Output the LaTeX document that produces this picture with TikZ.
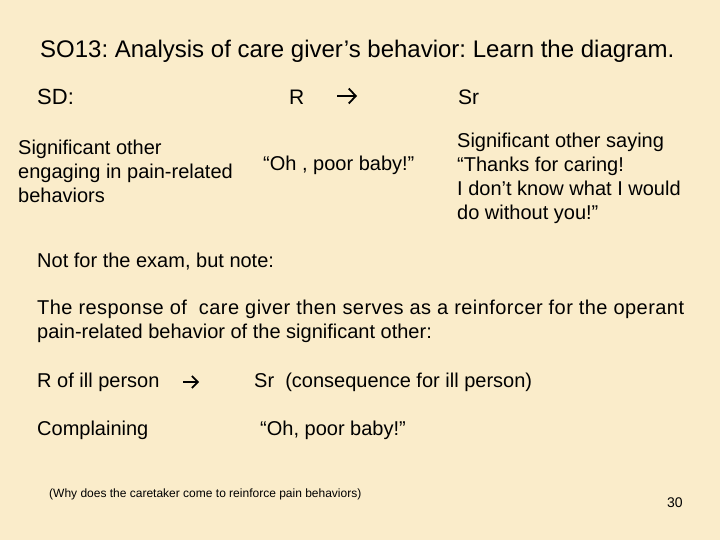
\documentclass[tikz,border=0pt]{standalone}
\usepackage{fontspec}
\setmainfont{Liberation Sans}
\usetikzlibrary{arrows.meta}
\definecolor{slidebg}{RGB}{250,236,202}
\begin{document}
\frenchspacing
\begin{tikzpicture}[x=1pt,y=-1pt,
  txt/.style={anchor=west,inner sep=0pt,font=\fontsize{20}{24}\selectfont,align=left},
  small/.style={anchor=west,inner sep=0pt,font=\fontsize{12}{14}\selectfont},
  arrow/.style={line width=1.8pt,-{Straight Barb[length=7pt,width=15pt,line cap=butt]}}]
\fill[slidebg] (0,0) rectangle (720,540);
\useasboundingbox (0,0) rectangle (720,540);
\node[anchor=west,inner sep=0pt,font=\fontsize{24}{28}\selectfont] (title) at (40,51) {SO13: Analysis of care giver’s behavior: Learn the diagram.};
\node[txt,font=\fontsize{22}{24}\selectfont] (sd) at (37,97) {SD:};
\node[txt,font=\fontsize{21}{24}\selectfont] (r) at (289,97) {R};
\coordinate (a1s) at (337,96);
\coordinate (a1e) at (357,96);
\draw[arrow] (a1s) -- (a1e);
\node[txt,font=\fontsize{21}{24}\selectfont] (sr) at (458,97) {Sr};
\node[txt] (left) at (18,171) {Significant other\\engaging in pain-related\\behaviors};
\node[txt] (mid) at (263,165) {“Oh , poor baby!”};
\node[txt] (right) at (457,178) {Significant other saying\\“Thanks for caring!\\I don’t know what I would\\do without you!”};
\node[txt] (note) at (37,262) {Not for the exam, but note:};
\node[txt] (resp) at (37,321) {{\addfontfeature{LetterSpace=2.2}The response of\ \ care giver then serves as a reinforcer for the operant}\\pain-related behavior of the significant other:};
\node[txt] (rill) at (37,382) {R of ill person};
\coordinate (a2s) at (183,382);
\coordinate (a2e) at (199,382);
\draw[arrow,line width=1.6pt,-{Straight Barb[length=6pt,width=12pt,line cap=butt]}] (a2s) -- (a2e);
\node[txt] (srill) at (254,382) {Sr\ \ (consequence for ill person)};
\node[txt] (comp) at (37,430) {Complaining};
\node[txt] (oh2) at (260,430) {“Oh, poor baby!”};
\node[small] (why) at (49,494) {(Why does the caretaker come to reinforce pain behaviors)};
\node[anchor=west,inner sep=0pt,font=\fontsize{14}{16}\selectfont] (num) at (667,503) {30};
\end{tikzpicture}
\end{document}
